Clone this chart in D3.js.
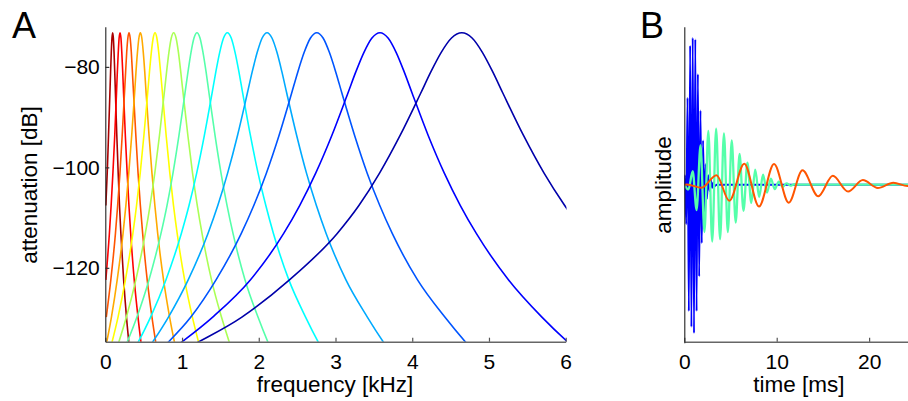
<!DOCTYPE html>
<html>
<head>
<meta charset="utf-8">
<script src="https://cdn.jsdelivr.net/npm/d3@7"></script>
<style>
  body { margin: 0; background: #fff; }
  text { font-family: "Liberation Sans", Arial, sans-serif; fill: #000; }
</style>
</head>
<body>
<svg id="fig" width="908" height="401"></svg>
<script>
// ---- Panel A: gammatone filter bank magnitude responses ----
// centre frequency of each channel (kHz)
const centerFreqs = [0.096, 0.192, 0.309, 0.457, 0.648, 0.891, 1.195, 1.591, 2.108, 2.756, 3.58, 4.646];
// attenuation levels (dB); first entry is the common peak level
const levels = [-73.2, -74.25, -77.1, -80.95, -85.25, -93.65, -101.15, -107.6, -113.2, -122.4, -129.8, -135.9, -141.2];
// frequency (kHz) where each channel's response crosses levels[1..] below its centre
const lowerFreqs = [
  [0.087, 0.078, 0.069, 0.060, 0.042, 0.025, 0.007],
  [0.180, 0.169, 0.157, 0.146, 0.123, 0.099, 0.076, 0.053, 0.007],
  [0.294, 0.279, 0.265, 0.250, 0.220, 0.191, 0.161, 0.132, 0.072, 0.013],
  [0.438, 0.419, 0.400, 0.382, 0.344, 0.306, 0.268, 0.231, 0.155, 0.080, 0.004],
  [0.624, 0.600, 0.576, 0.552, 0.503, 0.455, 0.407, 0.359, 0.262, 0.166, 0.069],
  [0.860, 0.829, 0.799, 0.768, 0.706, 0.645, 0.583, 0.521, 0.398, 0.275, 0.152, 0.029],
  [1.156, 1.117, 1.078, 1.038, 0.960, 0.882, 0.804, 0.725, 0.569, 0.412, 0.255, 0.099],
  [1.541, 1.491, 1.441, 1.391, 1.291, 1.191, 1.091, 0.990, 0.790, 0.590, 0.390, 0.190],
  [2.044, 1.980, 1.915, 1.851, 1.723, 1.594, 1.466, 1.337, 1.080, 0.823, 0.566, 0.309],
  [2.674, 2.592, 2.510, 2.428, 2.264, 2.099, 1.935, 1.771, 1.443, 1.115, 0.750, 0.400],
  [3.475, 3.371, 3.266, 3.161, 2.952, 2.742, 2.533, 2.323, 1.890, 1.400, 0.900, 0.450],
  [4.512, 4.378, 4.244, 4.110, 3.842, 3.574, 3.305, 3.020, 2.400, 1.780, 1.080, 0.500]
];
// frequency (kHz) where each channel's response crosses levels[1..] above its centre
const upperFreqs = [
  [0.105, 0.114, 0.123, 0.132, 0.150, 0.168, 0.185, 0.203, 0.239, 0.276, 0.314, 0.350],
  [0.204, 0.215, 0.227, 0.238, 0.261, 0.285, 0.308, 0.331, 0.377, 0.426, 0.474, 0.520],
  [0.324, 0.339, 0.353, 0.368, 0.398, 0.427, 0.457, 0.487, 0.546, 0.608, 0.669, 0.728],
  [0.476, 0.495, 0.514, 0.532, 0.570, 0.608, 0.646, 0.683, 0.759, 0.838, 0.916, 0.992],
  [0.672, 0.696, 0.720, 0.745, 0.793, 0.841, 0.889, 0.937, 1.034, 1.135, 1.235, 1.333],
  [0.922, 0.953, 0.983, 1.014, 1.076, 1.137, 1.199, 1.261, 1.384, 1.514, 1.640, 1.765],
  [1.234, 1.273, 1.313, 1.352, 1.430, 1.508, 1.587, 1.665, 1.821, 1.990, 2.150, 2.310],
  [1.641, 1.691, 1.741, 1.791, 1.891, 1.991, 2.092, 2.192, 2.392, 2.610, 2.815, 3.020],
  [2.172, 2.237, 2.301, 2.365, 2.494, 2.622, 2.751, 2.879, 3.136, 3.415, 3.675, 3.940],
  [2.838, 2.920, 3.002, 3.084, 3.249, 3.413, 3.577, 3.741, 4.069, 4.425, 4.760, 5.095],
  [3.685, 3.790, 3.894, 3.999, 4.208, 4.418, 4.627, 4.837, 5.256, 5.690, 6.110, 6.530],
  [4.780, 4.914, 5.048, 5.182, 5.450, 5.718, 5.987, 6.255, 6.790, 7.330, 7.860, 8.400]
];
const filterColors = ["#aa0000", "#ff0000", "#ff5500", "#ffaa00", "#ffff00", "#aaff55",
                      "#55ffaa", "#00ffff", "#00aaff", "#0055ff", "#0000ff", "#0000aa"];
const freqTicks = [0, 1, 2, 3, 4, 5, 6];
const dbTicks = [-80, -100, -120];

// ---- Panel B: impulse responses (successive extrema, time in ms) ----
const highT = [0, 0.07, 0.21, 0.35, 0.49, 0.63, 0.77, 0.91, 1.05, 1.19, 1.33, 1.47, 1.61, 1.75, 1.89,
               2.03, 2.17, 2.31, 2.45, 2.59, 2.73, 2.87, 3.01, 3.15, 3.29, 3.5, 24.3];
const highA = [0, 0.06, -0.25, 0.55, -0.80, 0.88, -0.90, 0.93, -0.94, 0.92, -0.80, 0.70, -0.58, 0.47, -0.37,
               0.28, -0.19, 0.13, -0.09, 0.06, -0.04, 0.03, -0.02, 0.015, -0.01, 0, 0];
const midT = [0, 0.45, 0.91, 1.33, 1.755, 2.18, 2.60, 3.02, 3.445, 3.87, 4.29, 4.71, 5.135, 5.56, 5.98,
              6.405, 6.83, 7.25, 7.675, 8.10, 8.52, 8.945, 9.37, 9.79, 10.215, 10.64, 11.06, 11.485,
              11.91, 12.4, 24.3];
const midA = [0, -0.03, 0.085, -0.16, 0.25, -0.30, 0.34, -0.36, 0.355, -0.345, 0.325, -0.30, 0.28, -0.24, 0.195,
              -0.165, 0.14, -0.115, 0.095, -0.078, 0.063, -0.05, 0.038, -0.028, 0.02, -0.014, 0.009, -0.006,
              0.003, 0, 0];
const lowT = [0, 0.28, 1.88, 3.48, 4.87, 6.49, 8.08, 9.71, 11.30, 12.79, 14.50, 16.07, 17.72, 19.32,
              20.94, 22.62, 24.16, 24.4];
const lowA = [0, 0.001, -0.019, 0.06, -0.102, 0.133, -0.138, 0.131, -0.114, 0.091, -0.073, 0.056, -0.043,
              0.029, -0.021, 0.013, -0.009, -0.008];
const traceColors = ["#0000ff", "#55ffaa", "#ff5500"];
const timeTicks = [0, 10, 20];

// ---------------------------------------------------------------
const svg = d3.select("#fig");
svg.append("rect").attr("width", 908).attr("height", 401).attr("fill", "#fff");

const tickFont = 21, titleFont = 22.5;

// Panel A scales
const x = d3.scaleLinear().domain([0, 6]).range([105.3, 565.7]);
const y = d3.scaleLinear().domain([-134.7, -72]).range([341.7, 26.7]);

svg.append("clipPath").attr("id", "clipA").append("rect")
  .attr("x", x(0)).attr("y", y(-72))
  .attr("width", x(6) - x(0) + 0.8).attr("height", y(-134.7) - y(-72));

const line = d3.line().x(d => x(d[0])).y(d => y(d[1])).curve(d3.curveMonotoneX);

const curves = centerFreqs.map((fc, i) => {
  const pts = [];
  for (let k = lowerFreqs[i].length - 1; k >= 0; k--) pts.push([lowerFreqs[i][k], levels[k + 1]]);
  pts.push([fc, levels[0]]);
  upperFreqs[i].forEach((f, k) => pts.push([f, levels[k + 1]]));
  return pts;
});

svg.append("g").attr("clip-path", "url(#clipA)")
  .selectAll("path").data(curves).join("path")
  .attr("d", line)
  .attr("fill", "none")
  .attr("stroke", (d, i) => filterColors[i])
  .attr("stroke-width", 1.6);

// Panel A axes
const xAxisA = svg.append("g").attr("transform", `translate(0,${y(-134.7)})`)
  .call(d3.axisBottom(x).tickValues(freqTicks).tickFormat(d3.format("d"))
    .tickSizeInner(-4).tickSizeOuter(0).tickPadding(12.5));
const yAxisA = svg.append("g").attr("transform", `translate(${x(0)},0)`)
  .call(d3.axisLeft(y).tickValues(dbTicks).tickFormat(d => "\u2212" + Math.abs(d))
    .tickSizeInner(-4).tickSizeOuter(0).tickPadding(5.5));

// Panel B scales
const tx = d3.scaleLinear().domain([0, 24.24]).range([684.3, 908.3]);
const ay = d3.scaleLinear().domain([-1, 1]).range([342.7, 26.7]);

svg.append("clipPath").attr("id", "clipB").append("rect")
  .attr("x", tx(0)).attr("y", ay(1)).attr("width", tx(24.24) - tx(0)).attr("height", ay(-1) - ay(1));

const traceLine = d3.line().x(d => tx(d[0])).y(d => ay(d[1])).curve(d3.curveMonotoneX);
const traces = [
  { pts: d3.zip(highT, highA), w: 1.9 },
  { pts: d3.zip(midT, midA), w: 2.3 },
  { pts: d3.zip(lowT, lowA), w: 2.0 }
];
svg.append("g").attr("clip-path", "url(#clipB)")
  .selectAll("path").data(traces).join("path")
  .attr("d", d => traceLine(d.pts))
  .attr("fill", "none")
  .attr("stroke", (d, i) => traceColors[i])
  .attr("stroke-width", d => d.w);

const xAxisB = svg.append("g").attr("transform", `translate(0,${y(-134.7)})`)
  .call(d3.axisBottom(tx).tickValues(timeTicks).tickFormat(d3.format("d"))
    .tickSizeInner(-4).tickSizeOuter(0).tickPadding(12.5));
const yAxisB = svg.append("g").attr("transform", `translate(${tx(0)},0)`)
  .call(d3.axisLeft(ay).tickValues([]).tickSizeOuter(0));

// axis styling
[xAxisA, xAxisB].forEach(g => {
  g.select(".domain").attr("stroke", "#666").attr("stroke-width", 1.5);
  g.selectAll(".tick line").attr("stroke", "#555").attr("stroke-width", 1.2);
  g.selectAll(".tick text").attr("font-size", tickFont).attr("font-family", null);
});
[yAxisA, yAxisB].forEach(g => {
  g.select(".domain").attr("stroke", "#222").attr("stroke-width", 1.1);
  g.selectAll(".tick line").attr("stroke", "#333").attr("stroke-width", 1.2);
  g.selectAll(".tick text").attr("font-size", tickFont).attr("font-family", null);
});
svg.selectAll(".tick text").attr("fill", "#000");

// titles and panel letters
svg.append("text").attr("x", 335).attr("y", 392).attr("text-anchor", "middle")
  .attr("font-size", titleFont).text("frequency [kHz]");
svg.append("text").attr("transform", "translate(37,185) rotate(-90)").attr("text-anchor", "middle")
  .attr("font-size", titleFont).text("attenuation [dB]");
svg.append("text").attr("x", 799).attr("y", 392).attr("text-anchor", "middle")
  .attr("font-size", titleFont).text("time [ms]");
svg.append("text").attr("transform", "translate(671,185) rotate(-90)").attr("text-anchor", "middle")
  .attr("font-size", titleFont).text("amplitude");
svg.append("text").attr("x", 12).attr("y", 38).attr("font-size", 36).text("A");
svg.append("text").attr("x", 640).attr("y", 38).attr("font-size", 36).text("B");
</script>
</body>
</html>
